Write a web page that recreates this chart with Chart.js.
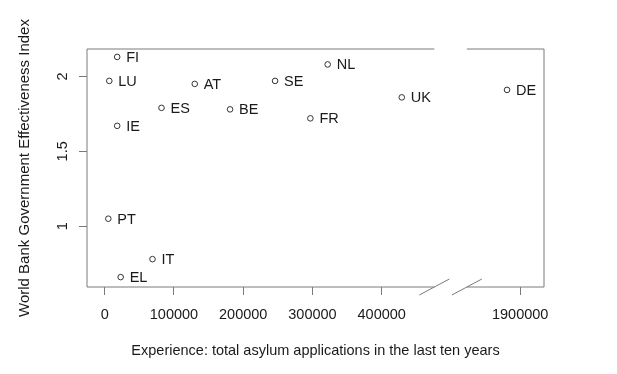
<!DOCTYPE html>
<html>
<head>
<meta charset="utf-8">
<script src="https://cdn.jsdelivr.net/npm/chart.js@4/dist/chart.umd.min.js"></script>
<style>
  html, body { margin: 0; padding: 0; background: #fff; }
  #wrap { width: 617px; height: 374px; }
</style>
</head>
<body>
<div id="wrap"><canvas id="govChart" width="617" height="374"></canvas></div>
<script>
// values
const countries = ['FI', 'LU', 'AT', 'SE', 'NL', 'ES', 'BE', 'FR', 'IE', 'PT', 'IT', 'EL', 'UK', 'DE'];
const applications = [18000, 6600, 130000, 246000, 322000, 82000, 181000, 297000, 18000, 5200, 69000, 23000, 429000, 1881000];
const effectiveness = [2.13, 1.97, 1.95, 1.97, 2.08, 1.79, 1.78, 1.72, 1.67, 1.05, 0.78, 0.66, 1.86, 1.91];
const xTicks = [0, 100000, 200000, 300000, 400000, 1900000];
const yTicks = [1, 1.5, 2];

// broken x axis: everything past the break is pulled left by AXIS_GAP
const BREAK_AT = 500000;
const AXIS_GAP = 1300000;
const BREAK_FROM = 476000;
const BREAK_TO = 523000;

function toAxis(v) { return v > BREAK_AT ? v - AXIS_GAP : v; }
function fromAxis(v) { return v > BREAK_AT ? v + AXIS_GAP : v; }

const FONT = 'Liberation Sans, Arial, sans-serif';
const INK = '#1a1a1a';
const FRAME = '#7a7a7a';

const points = countries.map((c, i) => ({ x: toAxis(applications[i]), y: effectiveness[i], label: c }));

// R style box with the gap where the axis is broken, plus the // marks
const framePlugin = {
  id: 'frame',
  afterDraw(chart) {
    const { ctx, chartArea: a } = chart;
    const xs = chart.scales.x;
    const g1 = xs.getPixelForValue(BREAK_FROM);
    const g2 = xs.getPixelForValue(BREAK_TO);
    ctx.save();
    ctx.strokeStyle = FRAME;
    ctx.lineWidth = 1;
    ctx.beginPath();
    ctx.moveTo(g1, a.top); ctx.lineTo(a.left, a.top); ctx.lineTo(a.left, a.bottom); ctx.lineTo(g1, a.bottom);
    ctx.moveTo(g2, a.bottom); ctx.lineTo(a.right, a.bottom); ctx.lineTo(a.right, a.top); ctx.lineTo(g2, a.top);
    ctx.stroke();
    ctx.beginPath();
    [g1, g2].forEach(gx => {
      ctx.moveTo(gx - 15, a.bottom + 8);
      ctx.lineTo(gx + 15, a.bottom - 8);
    });
    ctx.stroke();
    ctx.restore();
  }
};

// y tick labels turned parallel to the axis, centred on their ticks
const yLabelPlugin = {
  id: 'yLabels',
  afterDraw(chart) {
    const { ctx } = chart;
    const ys = chart.scales.y;
    ctx.save();
    ctx.font = '14.5px ' + FONT;
    ctx.fillStyle = INK;
    ctx.textAlign = 'center';
    ctx.textBaseline = 'middle';
    yTicks.forEach(v => {
      ctx.save();
      ctx.translate(ys.right - 24, ys.getPixelForValue(v));
      ctx.rotate(-Math.PI / 2);
      ctx.fillText(String(v), 0, 0);
      ctx.restore();
    });
    ctx.restore();
  }
};

// country codes to the right of each point
const labelPlugin = {
  id: 'pointLabels',
  afterDatasetsDraw(chart) {
    const { ctx } = chart;
    const meta = chart.getDatasetMeta(0);
    ctx.save();
    ctx.font = '14.5px ' + FONT;
    ctx.fillStyle = INK;
    ctx.textAlign = 'left';
    ctx.textBaseline = 'middle';
    meta.data.forEach((pt, i) => {
      ctx.fillText(points[i].label, pt.x + 9, pt.y + 1);
    });
    ctx.restore();
  }
};

Chart.defaults.font.family = FONT;
Chart.defaults.font.size = 14.5;
Chart.defaults.color = INK;

new Chart(document.getElementById('govChart'), {
  type: 'scatter',
  data: {
    datasets: [{
      data: points,
      pointRadius: 2.8,
      pointHoverRadius: 2.8,
      pointBorderWidth: 1,
      pointBorderColor: '#333',
      pointBackgroundColor: 'rgba(0,0,0,0)'
    }]
  },
  options: {
    responsive: false,
    animation: false,
    events: [],
    layout: { padding: { left: 0, top: 49, right: 73, bottom: 0 } },
    plugins: { legend: { display: false }, tooltip: { enabled: false } },
    scales: {
      x: {
        type: 'linear',
        min: -25600,
        max: 634400,
        afterFit(scale) { scale.height = 87; },
        afterBuildTicks(scale) { scale.ticks = xTicks.map(v => ({ value: toAxis(v) })); },
        border: { display: false },
        grid: { drawOnChartArea: false, drawTicks: true, tickLength: 8, color: FRAME },
        ticks: {
          padding: 11,
          color: INK,
          maxRotation: 0,
          autoSkip: false,
          callback(value) { return String(fromAxis(value)); }
        },
        title: {
          display: true,
          text: 'Experience: total asylum applications in the last ten years',
          color: INK,
          font: { size: 14.5 },
          padding: { top: 0, bottom: 14 }
        }
      },
      y: {
        type: 'linear',
        min: 0.594,
        max: 2.183,
        afterFit(scale) { scale.width = 87; },
        afterBuildTicks(scale) { scale.ticks = yTicks.map(v => ({ value: v })); },
        border: { display: false },
        grid: { drawOnChartArea: false, drawTicks: true, tickLength: 8, color: FRAME },
        ticks: { display: false },
        title: {
          display: true,
          text: 'World Bank Government Effectiveness Index',
          color: INK,
          font: { size: 15 },
          padding: { top: 16, bottom: 0 }
        }
      }
    }
  },
  plugins: [framePlugin, yLabelPlugin, labelPlugin]
});
</script>
</body>
</html>
